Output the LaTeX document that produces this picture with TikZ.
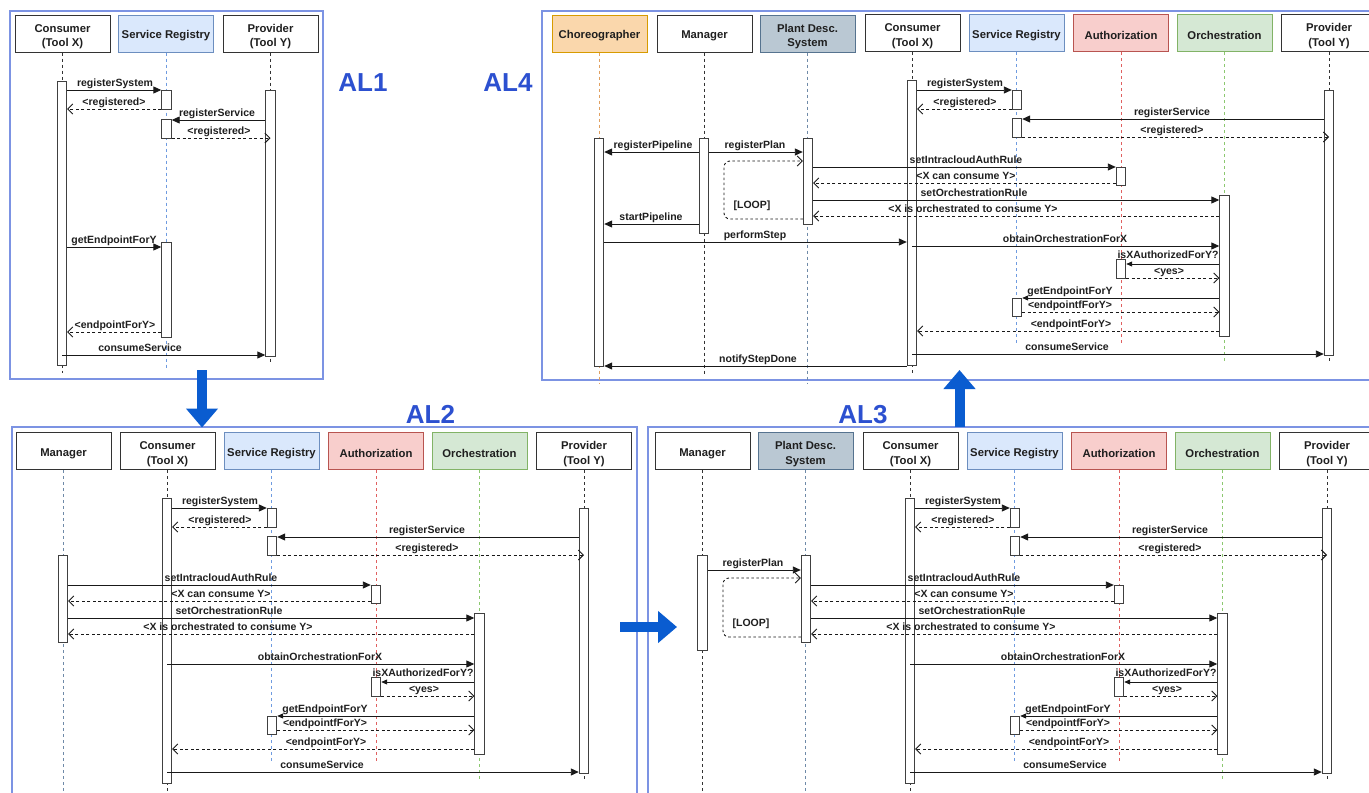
\documentclass[tikz,border=0pt]{standalone}
\usepackage{fontspec}
\setmainfont{Liberation Sans}
\usetikzlibrary{arrows.meta}
\definecolor{srfill}{HTML}{DAE8FC}\definecolor{srdraw}{HTML}{6C8EBF}
\definecolor{aufill}{HTML}{F8CECC}\definecolor{audraw}{HTML}{B85450}
\definecolor{orfill}{HTML}{D5E8D4}\definecolor{ordraw}{HTML}{82B366}
\definecolor{chfill}{HTML}{FAD7AC}\definecolor{chdraw}{HTML}{D79B00}
\definecolor{pdfill}{HTML}{BAC8D3}\definecolor{pddraw}{HTML}{56738F}
\definecolor{srline}{HTML}{6F9BE0}\definecolor{auline}{HTML}{E06060}
\definecolor{orline}{HTML}{8CC870}\definecolor{chline}{HTML}{E0A060}
\definecolor{pdline}{HTML}{6F8AA8}
\definecolor{framec}{HTML}{7C93E3}\definecolor{altc}{HTML}{2C50D0}
\definecolor{bigc}{HTML}{0A5CD0}
\tikzset{
 hdr/.style={draw=black!80, line width=1pt, fill=white, minimum width=95pt, minimum height=37pt, inner sep=1pt, align=center, font=\bfseries\fontsize{11.3}{14}\selectfont, text=black!88},
 srbox/.style={fill=srfill, draw=srdraw},
 aubox/.style={fill=aufill, draw=audraw},
 orbox/.style={fill=orfill, draw=ordraw},
 chbox/.style={fill=chfill, draw=chdraw},
 pdbox/.style={fill=pdfill, draw=pddraw},
 act/.style={draw=black!75, fill=white, line width=0.9pt, minimum width=9.5pt, inner sep=0pt},
 sync/.style={draw=black!90, line width=0.9pt, -{Triangle[length=8pt,width=7pt]}},
 syncs/.style={draw=black!90, line width=0.9pt, -{Triangle[length=6pt,width=5pt]}},
 ret/.style={draw=black!90, line width=0.9pt, dash pattern=on 3pt off 2.5pt, -{Straight Barb[length=5pt,width=10pt]}},
 loopline/.style={draw=black!90, line width=0.9pt, dash pattern=on 2.5pt off 2.5pt, rounded corners=6pt, -{Straight Barb[length=5pt,width=10pt]}},
 lbl/.style={font=\bfseries\fontsize{10.5}{12}\selectfont, text=black!88, anchor=base, inner sep=0pt},
 life/.style={line width=0.9pt, dash pattern=on 3pt off 3pt},
 frame/.style={draw=framec, line width=1.5pt},
 altitle/.style={font=\bfseries\fontsize{26}{28}\selectfont, text=altc, anchor=base, inner sep=0pt},
 big/.style={draw=bigc, line width=10pt, -{Triangle[length=19pt,width=31pt]}},
}
\newcommand\oneline[1]{\rule{0pt}{13.2pt}#1}
\newcommand\twoline[2]{\raisebox{-6pt}[0pt][0pt]{\begin{tabular}{@{}c@{}}#1\\[0.5pt]#2\end{tabular}}}
% activation bar: name, x, y top, y bottom
\newcommand\actbar[4]{\node[act, minimum height={(#4-#3)*1pt}] (#1) at (#2,{(#3+#4)/2}) {};}
% common block Consumer..Provider, in AL2 coordinates; #1 prefix, #2 source anchor
\newcommand\stdblock[2]{%
 \node[hdr] (#1c) at (167.5,451) {\twoline{Consumer}{(Tool X)}};
 \node[hdr,srbox] (#1s) at (271.5,451) {\oneline{Service Registry}};
 \node[hdr,aubox] (#1a) at (376,451) {\oneline{Authorization}};
 \node[hdr,orbox] (#1o) at (479.5,451) {\oneline{Orchestration}};
 \node[hdr] (#1p) at (584,451) {\twoline{Provider}{(Tool Y)}};
 \draw[life, draw=black!80] (#1c.south) -- (167.5,792);
 \draw[life, draw=srline] (#1s.south) -- (271.5,762);
 \draw[life, draw=auline] (#1a.south) -- (376,763);
 \draw[life, draw=orline] (#1o.south) -- (479.5,780);
 \draw[life, draw=black!80] (#1p.south) -- (584,780);
 \actbar{#1cb}{167}{498}{783}
 \actbar{#1s1}{272}{508}{527}
 \actbar{#1s2}{272}{536}{555}
 \actbar{#1a1}{376}{585}{603}
 \actbar{#1ob}{479.5}{613}{754}
 \actbar{#1a2}{376}{677}{696}
 \actbar{#1s3}{272}{716}{734}
 \actbar{#1pb}{584}{508}{773}
 \draw[sync] (#1cb.east |- 0,508) -- (#1s1.west |- 0,508);
 \node[lbl] at (220,504) {registerSystem};
 \draw[ret] (#1s1.west |- 0,527) -- (#1cb.east |- 0,527);
 \node[lbl] at (220,523) {<registered>};
 \draw[sync] (#1pb.west |- 0,537) -- (#1s2.east |- 0,537);
 \node[lbl] at (427,533) {registerService};
 \draw[ret] (#1s2.east |- 0,555) -- (#1p.center |- 0,555);
 \node[lbl] at (427,551) {<registered>};
 \draw[sync] (#2 |- 0,585) -- (#1a1.west |- 0,585);
 \node[lbl] at (221,581) {setIntracloudAuthRule};
 \draw[ret] (#1a1.west |- 0,601) -- (#2 |- 0,601);
 \node[lbl] at (221,597) {<X can consume Y>};
 \draw[sync] (#2 |- 0,618) -- (#1ob.west |- 0,618);
 \node[lbl] at (229,614) {setOrchestrationRule};
 \draw[ret] (#1ob.west |- 0,634) -- (#2 |- 0,634);
 \node[lbl] at (228,630) {<X is orchestrated to consume Y>};
 \draw[sync] (#1cb.center |- 0,664) -- (#1ob.west |- 0,664);
 \node[lbl] at (320,660) {obtainOrchestrationForX};
 \draw[syncs] (#1ob.west |- 0,682) -- (#1a2.east |- 0,682);
 \node[lbl] at (423,676.5) {isXAuthorizedForY?};
 \draw[ret] (#1a2.east |- 0,696) -- (#1ob.west |- 0,696);
 \node[lbl] at (424,692) {<yes>};
 \draw[syncs] (#1ob.west |- 0,716) -- (#1s3.east |- 0,716);
 \node[lbl] at (325,712) {getEndpointForY};
 \draw[ret] (#1s3.east |- 0,730) -- (#1ob.west |- 0,730);
 \node[lbl] at (325,726) {<endpointfForY>};
 \draw[ret] (#1ob.west |- 0,749) -- (#1cb.east |- 0,749);
 \node[lbl] at (326,745) {<endpointForY>};
 \draw[sync] (#1cb.center |- 0,772) -- (#1pb.west |- 0,772);
 \node[lbl] at (322,768) {consumeService};
}
\begin{document}
\begin{tikzpicture}[x=1pt,y=-1pt]
\useasboundingbox (0,0) rectangle (1369,793);
\fill[white] (0,0) rectangle (1369,793);
\clip (0,0) rectangle (1369,793);

% ---------------- AL1 ----------------
\draw[frame] (10,11) rectangle (323,379);
\node[hdr] (c1) at (62.5,33.5) {\twoline{Consumer}{(Tool X)}};
\node[hdr,srbox] (s1) at (166,33.5) {\oneline{Service Registry}};
\node[hdr] (p1) at (270.5,33.5) {\twoline{Provider}{(Tool Y)}};
\draw[life, draw=black!80] (c1.south) -- (62.5,373);
\draw[life, draw=srline] (s1.south) -- (166,370);
\draw[life, draw=black!80] (p1.south) -- (270.5,363);
\actbar{c1b}{62}{81}{365}
\actbar{s1a}{166.5}{90}{109}
\actbar{s1b}{166.5}{119}{138}
\actbar{s1c}{166.5}{242}{337}
\actbar{p1b}{270.5}{90}{356}
\draw[sync] (c1b.east |- 0,90) -- (s1a.west |- 0,90);
\node[lbl] at (115,86) {registerSystem};
\draw[ret] (s1a.west |- 0,109) -- (c1b.east |- 0,109);
\node[lbl] at (114,105) {<registered>};
\draw[sync] (p1b.west |- 0,120) -- (s1b.east |- 0,120);
\node[lbl] at (217,116) {registerService};
\draw[ret] (s1b.east |- 0,138) -- (p1.center |- 0,138);
\node[lbl] at (219,134) {<registered>};
\draw[sync] (c1b.east |- 0,247) -- (s1c.west |- 0,247);
\node[lbl] at (114,243) {getEndpointForY};
\draw[ret] (s1c.west |- 0,332) -- (c1b.east |- 0,332);
\node[lbl] at (115,328) {<endpointForY>};
\draw[sync] (c1b.center |- 0,355) -- (p1b.west |- 0,355);
\node[lbl] at (140,351) {consumeService};
\node[altitle] (t1) at (363,91) {AL1};

% ---------------- AL4 ----------------
\draw[frame] (542,11) rectangle (1390,380);
\node[altitle] (t4) at (508,91) {AL4};
\node[hdr,chbox] (a4ch) at (599.5,33.5) {\oneline{Choreographer}};
\node[hdr] (a4m) at (704.5,33.5) {\oneline{Manager}};
\node[hdr,pdbox] (a4pd) at (807.5,33.5) {\twoline{Plant Desc.}{System}};
\draw[life, draw=chline] (a4ch.south) -- (599.5,383);
\draw[life, draw=black!80] (a4m.south) -- (704.5,375);
\draw[life, draw=pdline] (a4pd.south) -- (807.5,383);
\actbar{a4chb}{599}{138}{366}
\actbar{a4mb}{704}{138}{233}
\actbar{a4pdb}{808}{138}{224}
\begin{scope}[shift={(745,-418)}]
\stdblock{a4}{a4pdb.east}
\end{scope}
\draw[sync] (a4mb.west |- 0,152) -- (a4chb.east |- 0,152);
\node[lbl] at (653,148) {registerPipeline};
\draw[sync] (a4mb.east |- 0,152) -- (a4pdb.west |- 0,152);
\node[lbl] at (755,148) {registerPlan};
\draw[loopline] (a4pdb.west |- 0,219) -- (724,219) -- (724,161) -- (a4pdb.west |- 0,161);
\node[lbl] at (752,208) {[LOOP]};
\draw[sync] (a4mb.west |- 0,224) -- (a4chb.east |- 0,224);
\node[lbl] at (651,220) {startPipeline};
\draw[sync] (a4chb.east |- 0,242) -- (a4cb.west |- 0,242);
\node[lbl] at (755,238) {performStep};
\draw[sync] (a4cb.west |- 0,366) -- (a4chb.east |- 0,366);
\node[lbl] at (758,362) {notifyStepDone};

% ---------------- AL2 ----------------
\draw[frame] (12,427) rectangle (637,810);
\node[altitle] (t2) at (430.5,423) {AL2};
\node[hdr] (a2m) at (63.5,451) {\oneline{Manager}};
\draw[life, draw=pdline] (a2m.south) -- (63.5,800);
\actbar{a2mb}{63}{555}{642}
\stdblock{a2}{a2mb.east}

% ---------------- AL3 ----------------
\draw[frame] (648,427) rectangle (1390,810);
\node[altitle] (t3) at (863,423) {AL3};
\node[hdr] (a3m) at (702.5,451) {\oneline{Manager}};
\node[hdr,pdbox] (a3pd) at (805.5,451) {\twoline{Plant Desc.}{System}};
\draw[life, draw=black!80] (a3m.south) -- (702.5,800);
\draw[life, draw=pdline] (a3pd.south) -- (805.5,800);
\actbar{a3mb}{702.5}{555}{650}
\actbar{a3pdb}{806}{555}{642}
\begin{scope}[shift={(743,0)}]
\stdblock{a3}{a3pdb.east}
\end{scope}
\draw[sync] (a3mb.east |- 0,570) -- (a3pdb.west |- 0,570);
\node[lbl] at (753,566) {registerPlan};
\draw[loopline] (a3pdb.west |- 0,637) -- (723,637) -- (723,578) -- (a3pdb.west |- 0,578);
\node[lbl] at (751,626) {[LOOP]};

% ---------------- big arrows ----------------
\coordinate (d1) at (202,370); \coordinate (d2) at (202,427.5);
\draw[big] (d1) -- (d2);
\coordinate (r1) at (620,627); \coordinate (r2) at (677,627);
\draw[big] (r1) -- (r2);
\coordinate (u1) at (959.5,427); \coordinate (u2) at (959.5,370);
\draw[big] (u1) -- (u2);
\end{tikzpicture}
\end{document}
